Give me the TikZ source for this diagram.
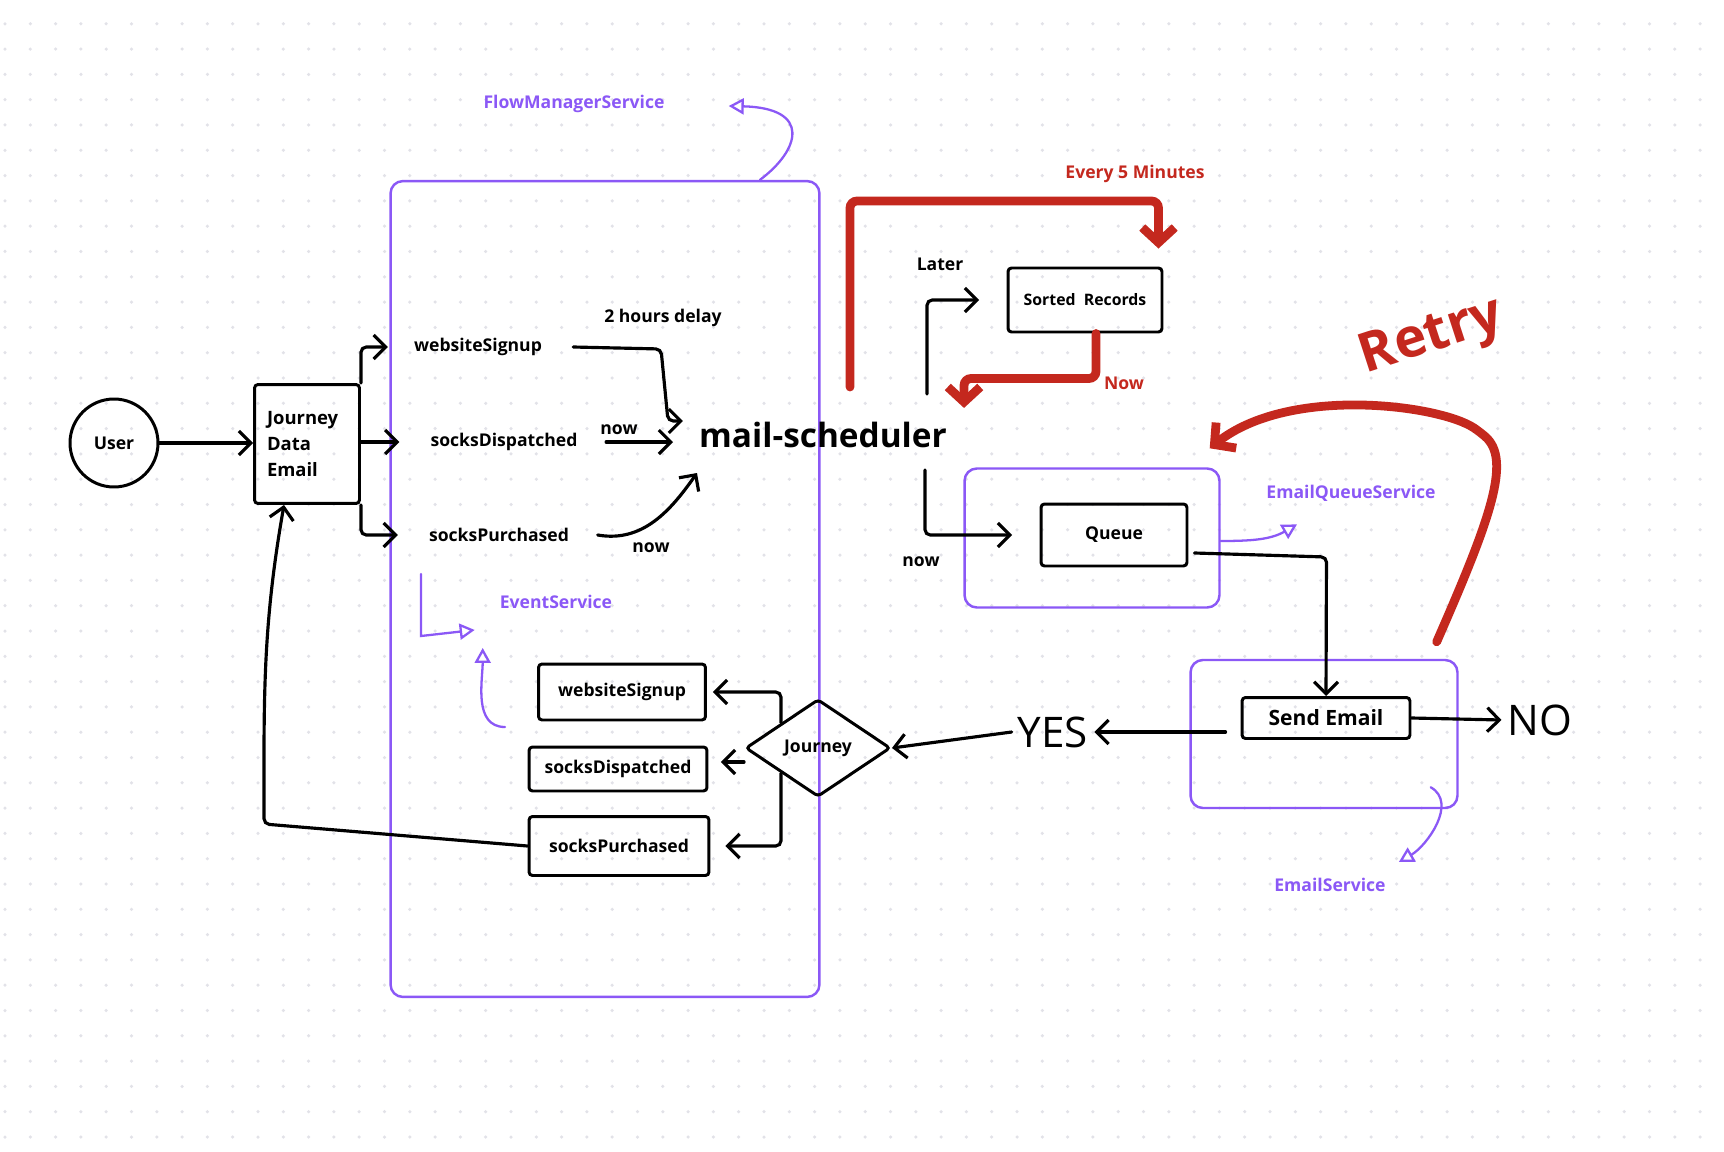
\documentclass[tikz,border=0pt]{standalone}
\usepackage{fontspec}
\setmainfont{Open Sans}
\usetikzlibrary{arrows.meta,shapes.geometric}
\definecolor{fmviolet}{RGB}{139,88,246}
\definecolor{fmred}{RGB}{196,40,30}
\definecolor{dotgrey}{RGB}{226,226,232}

\begin{document}
\begin{tikzpicture}[x=0.02cm, y=-0.02cm,
  box/.style = {draw, line width=1.7pt, rounded corners=2pt, font=\bfseries, inner sep=0pt},
  svc/.style = {draw=fmviolet, line width=1.4pt, rounded corners=7pt, inner sep=0pt},
  txt/.style = {font=\bfseries},
  ptxt/.style = {font=\bfseries, text=fmviolet},
  rtxt/.style = {font=\bfseries, text=fmred},
  hand/.style = {font=\fontsize{24}{26}\selectfont},
  arr/.style = {line width=1.8pt, line cap=round, rounded corners=3pt, -{Straight Barb[length=2.4mm,width=4.8mm]}},
  parr/.style = {fmviolet, line width=1.3pt, line cap=round, -{Triangle[open,length=3mm,width=3.2mm]}},
  rarr/.style = {fmred, line width=5pt, line cap=round, rounded corners=4pt, -{Straight Barb[length=3mm,width=6.5mm]}}]

\useasboundingbox (0,0) rectangle (1724,1152);
\fill[white] (0,0) rectangle (1724,1152);

%% dotted canvas
\foreach \i in {0,...,67}
  \foreach \j in {0,...,45}
    \fill[dotgrey] ({5+25.3*\i},{23.8+25.3*\j}) circle (0.035cm);

%% service frames
\node[svc, minimum width=8.58cm, minimum height=16.32cm] (fmbox) at (605,589) {};
\node[svc, minimum width=5.1cm, minimum height=2.78cm] (eqbox) at (1092,538) {};
\node[svc, minimum width=5.34cm, minimum height=2.96cm] (esbox) at (1324,734) {};

%% service labels
\node[ptxt] (fms) at (574,104) {FlowManagerService};
\node[ptxt] (evs) at (556,602) {EventService};
\node[ptxt] (eqs) at (1351,493) {EmailQueueService};
\node[ptxt] (ems) at (1330,885) {EmailService};

%% left part
\node[box, circle, minimum size=1.76cm] (user) at (114,443) {User};
\node[box, minimum width=2.1cm, minimum height=2.38cm, align=left, text width=1.6cm,
  font=\bfseries\fontsize{10.5}{14.8}\selectfont] (jde) at (307,444) {Journey\\Data\\Email};

\node[txt] (ws1) at (478,347) {websiteSignup};
\node[txt] (sd1) at (504,442) {socksDispatched};
\node[txt] (sp1) at (499,535) {socksPurchased};
\node[txt] (delay) at (663,318) {2 hours delay};
\node[txt] (now1) at (619,430) {now};
\node[txt] (now2) at (651,548) {now};
\node[font=\bfseries\fontsize{19}{22}\selectfont] (sched) at (823,435) {mail-scheduler};

\node[box, minimum width=3.34cm, minimum height=1.12cm] (ws2) at (622,692) {websiteSignup};
\node[box, minimum width=3.56cm, minimum height=0.88cm] (sd2) at (618,769) {socksDispatched};
\node[box, minimum width=3.6cm, minimum height=1.18cm] (sp2) at (619,846) {socksPurchased};
\node[box, diamond, aspect=1.5, minimum width=2.9cm, minimum height=1.95cm] (jrn) at (818,748) {Journey};

%% right part
\node[txt] (later) at (940,264) {Later};
\node[box, minimum width=3.08cm, minimum height=1.28cm, font=\bfseries\small] (sorted) at (1085,300) {Sorted~ Records};
\node[rtxt] (every) at (1135,174) {Every 5 Minutes};
\node[rtxt] (nowr) at (1124,383) {Now};
\node[txt] (now3) at (921,562) {now};
\node[box, minimum width=2.92cm, minimum height=1.24cm] (queue) at (1114,535) {Queue};
\node[box, minimum width=3.36cm, minimum height=0.82cm, font=\bfseries\large] (send) at (1326,718) {Send Email};
\node[hand] (yes) at (1053,732) {YES};
\node[hand] (no) at (1540,720) {NO};
\node[rtxt, font=\bfseries\fontsize{31}{34}\selectfont, rotate=18] (retry) at (1432,338) {Retry};

%% black connectors
\draw[arr] (user) -- (jde.west |- user);
\draw[arr] (jde.north east) |- ([xshift=-0.4cm]ws1.west);
\draw[arr] (jde.east |- sd1) -- ([xshift=-0.5cm]sd1.west);
\draw[arr] (jde.south east) |- ([xshift=-0.5cm]sp1.west);

\coordinate (wsbend) at (661,349);
\coordinate (wsdrop) at (668,421);
\draw[arr] ([xshift=0.5cm]ws1.east) -- (wsbend) -- (wsdrop) -- ([shift={(-10,-14)}]sched.west);
\draw[arr] ([xshift=0.45cm]sd1.east) -- ([xshift=-0.4cm]sd1.east -| sched.west);
\draw[arr] ([xshift=0.45cm]sp1.east) to[out=-10,in=235] ([shift={(4,38)}]sched.west);

\draw[arr] ([shift={(-26,-22)}]sched.north east) |- ([xshift=-0.55cm]sorted.west);
\draw[arr] ([shift={(-28,16)}]sched.south east) |- ([xshift=-0.55cm]queue.west);
\draw[arr] ([shift={(6,18)}]queue.east) -- ++(132,4) -- (send.north);
\draw[arr] (send.east) -- (no.west);
\draw[arr] ([xshift=-0.3cm]send.west |- yes) -- (yes.east);
\draw[arr] (yes.west) -- (jrn.east);

\draw[arr] (jrn.north west) |- ([xshift=0.12cm]ws2.east);
\draw[arr] ([yshift=-0.28cm]jrn.west) -- ([xshift=0.25cm,yshift=-0.28cm]jrn.west -| sd2.east);
\draw[arr] (jrn.south west) |- ([xshift=0.3cm]sp2.east);

\coordinate (loopc) at (264,824);
\draw[arr] (sp2.west) -- (loopc) to[out=90,in=-100] ([xshift=-0.46cm]jde.south);

%% red connectors
\coordinate (tick) at (850,387);
\draw[rarr] (tick) -- ++(0,-186) -| ([shift={(-5,-18)}]sorted.north east);
\draw[rarr] ([xshift=0.22cm]sorted.south) -- ++(0,45) -| ([shift={(11,-8)}]sched.north east);
\draw[rarr] ([shift={(-22,-17)}]esbox.north east) .. controls (1490,520) and (1512,460) .. (1480,432)
  .. controls (1440,405) and (1290,385) .. ([shift={(-11,-19)}]eqbox.north east);

%% violet connectors
\draw[parr] ([xshift=3.1cm]fmbox.north) .. controls (800,150) and (812,108) .. ([shift={(58,2)}]fms.east);
\coordinate (evstart) at (421,574);
\draw[parr] (evstart) -- ++(0,62) -- ([shift={(-19,15)}]evs.south west);
\draw[parr] ([shift={(-32,35)}]ws2.west) to[out=180,in=-90] ([shift={(-11,33)}]evs.south west);
\draw[parr] ([yshift=-0.06cm]eqbox.east) to[out=0,in=210] ([shift={(-54,17)}]eqs.south);
\draw[parr] ([shift={(-28,-22)}]esbox.south east) to[out=-30,in=30] ([shift={(7,-10)}]ems.north east);

\end{tikzpicture}
\end{document}
